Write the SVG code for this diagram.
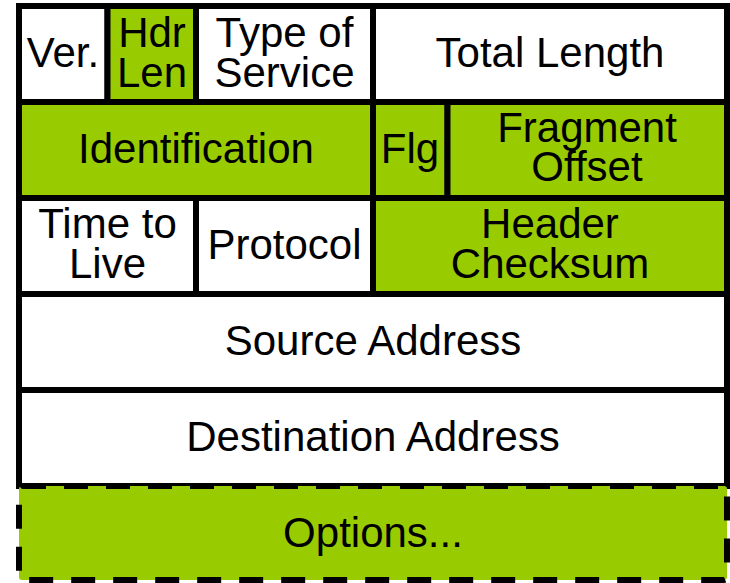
<svg xmlns="http://www.w3.org/2000/svg" width="730" height="583" viewBox="0 0 730 583">
<style>
.w{fill:#ffffff;stroke:#000;stroke-width:6}
.g{fill:#99cc00;stroke:#000;stroke-width:6}
.o{fill:#99cc00;stroke:#000;stroke-width:6;stroke-dasharray:24 18}
text{font-family:"Liberation Sans",Arial,sans-serif;font-size:42px;fill:#000;text-anchor:middle}
</style>
<rect x="0" y="0" width="730" height="583" fill="#ffffff"/>
<g id="ver"><rect class="w" x="19" y="6" width="88.5" height="96"/><text x="63" y="67">Ver.</text></g>
<g id="hdrlen"><rect class="g" x="107.5" y="6" width="88.5" height="96"/><text x="152" y="47">Hdr</text><text x="152" y="87">Len</text></g>
<g id="tos"><rect class="w" x="196" y="6" width="177" height="96"/><text x="284.5" y="47">Type of</text><text x="284.5" y="87">Service</text></g>
<g id="totallen"><rect class="w" x="373" y="6" width="354" height="96"/><text x="550" y="67">Total Length</text></g>
<g id="ident"><rect class="g" x="19" y="102" width="354" height="96"/><text x="196" y="163">Identification</text></g>
<g id="flg"><rect class="g" x="373" y="102" width="74.5" height="96"/><text x="410" y="163">Flg</text></g>
<g id="fragoff"><rect class="g" x="447.5" y="102" width="279.5" height="96"/><text x="587" y="142">Fragment</text><text x="587" y="181">Offset</text></g>
<g id="ttl"><rect class="w" x="19" y="198" width="177" height="96"/><text x="107.5" y="238">Time to</text><text x="107.5" y="278">Live</text></g>
<g id="proto"><rect class="w" x="196" y="198" width="177" height="96"/><text x="284.5" y="259">Protocol</text></g>
<g id="checksum"><rect class="g" x="373" y="198" width="354" height="96"/><text x="550" y="238">Header</text><text x="550" y="278">Checksum</text></g>
<g id="src"><rect class="w" x="19" y="294" width="708" height="96"/><text x="373" y="355">Source Address</text></g>
<g id="dst"><rect class="w" x="19" y="390" width="708" height="96"/><text x="373" y="451">Destination Address</text></g>
<g id="options"><rect class="o" x="19" y="486" width="708" height="94" rx="3"/><text x="373" y="547">Options...</text></g>
<g id="connectors"></g>
</svg>
